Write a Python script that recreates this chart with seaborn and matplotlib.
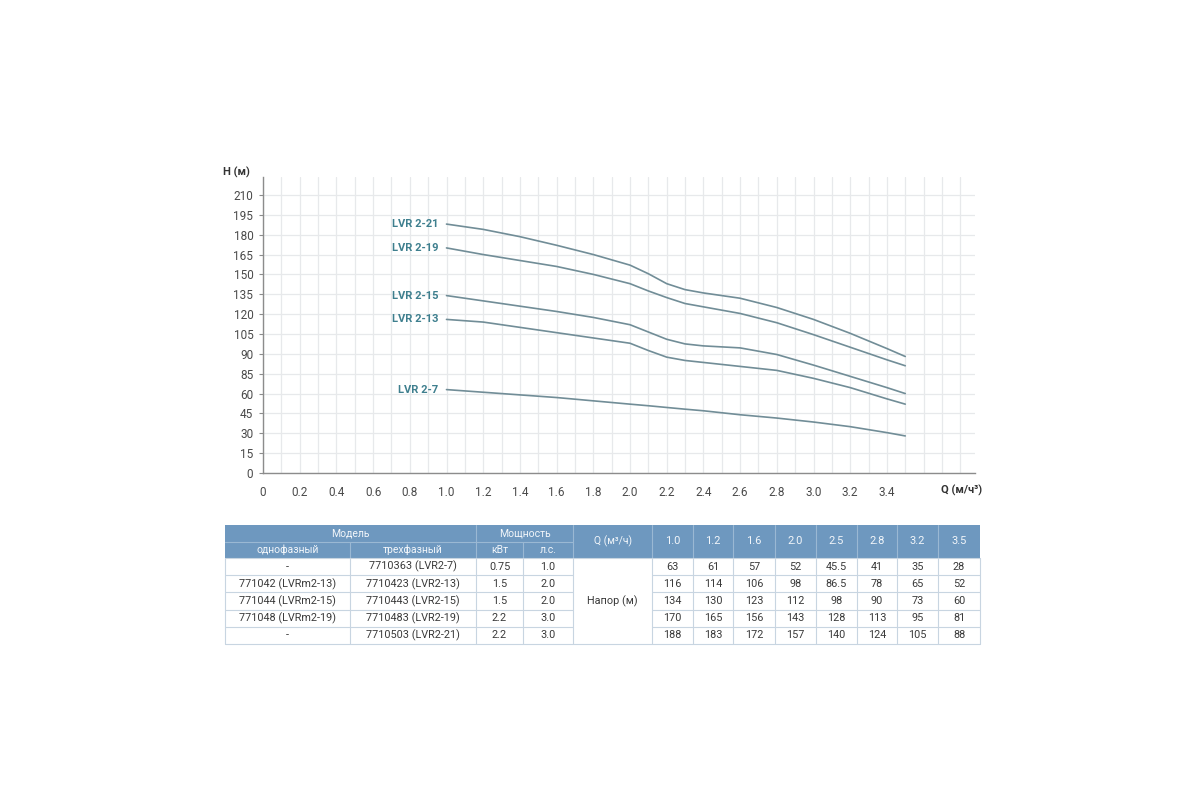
import matplotlib
matplotlib.use("Agg")
import matplotlib.pyplot as plt
import seaborn as sns
import pandas as pd
from matplotlib.patches import Rectangle

# ---------------- data ----------------
models = ["LVR 2-21", "LVR 2-19", "LVR 2-15", "LVR 2-13", "LVR 2-7"]
q_points = [1.0, 1.2, 1.4, 1.6, 1.8, 2.0, 2.1, 2.2, 2.3, 2.4, 2.6, 2.8, 3.0, 3.2, 3.4, 3.5]
h_lvr2_21 = [188, 184, 178.5, 172, 165, 157, 150.5, 143, 138.5, 136, 132, 125, 116, 105.5, 94, 88]
h_lvr2_19 = [170, 165, 160.5, 156, 150, 143, 137.5, 132.5, 128, 125.5, 120.5, 113.5, 104.5, 95, 85.5, 81]
h_lvr2_15 = [134, 130, 126, 122, 117.5, 112, 106.5, 101, 97.5, 96, 94.5, 89.5, 81.5, 73, 64.5, 60]
h_lvr2_13 = [116, 114, 110, 106, 102, 98, 92.5, 87.5, 85, 83.5, 80.5, 77.5, 71.5, 64.5, 56, 52]
h_lvr2_7 = [63, 61, 59, 57, 54.5, 52, 50.8, 49.5, 48.2, 47, 44, 41.5, 38.5, 35, 30.5, 28]

x_ticks = [0, 0.2, 0.4, 0.6, 0.8, 1.0, 1.2, 1.4, 1.6, 1.8, 2.0, 2.2, 2.4, 2.6, 2.8, 3.0, 3.2, 3.4]
x_tick_labels = ["0", "0.2", "0.4", "0.6", "0.8", "1.0", "1.2", "1.4", "1.6", "1.8",
                 "2.0", "2.2", "2.4", "2.6", "2.8", "3.0", "3.2", "3.4"]
y_ticks = [0, 15, 30, 45, 60, 75, 90, 105, 120, 135, 150, 165, 180, 195, 210]
y_tick_labels = ["0", "15", "30", "45", "60", "85", "90", "105", "120", "135",
                 "150", "165", "180", "195", "210"]

# table
tbl_single = ["-", "771042 (LVRm2-13)", "771044 (LVRm2-15)", "771048 (LVRm2-19)", "-"]
tbl_three = ["7710363 (LVR2-7)", "7710423 (LVR2-13)", "7710443 (LVR2-15)",
             "7710483 (LVR2-19)", "7710503 (LVR2-21)"]
tbl_kw = ["0.75", "1.5", "1.5", "2.2", "2.2"]
tbl_hp = ["1.0", "2.0", "2.0", "3.0", "3.0"]
tbl_q = ["1.0", "1.2", "1.6", "2.0", "2.5", "2.8", "3.2", "3.5"]
tbl_head = [
    ["63", "61", "57", "52", "45.5", "41", "35", "28"],
    ["116", "114", "106", "98", "86.5", "78", "65", "52"],
    ["134", "130", "123", "112", "98", "90", "73", "60"],
    ["170", "165", "156", "143", "128", "113", "95", "81"],
    ["188", "183", "172", "157", "140", "124", "105", "88"],
]

# ---------------- style ----------------
sns.set_theme(style="white")
plt.rcParams["font.family"] = ["Roboto", "DejaVu Sans"]

LINE_C = "#718d97"
LABEL_C = "#3e7f8e"
TICK_C = "#4a4a4a"
GRID_C = "#e7e9eb"
AXIS_C = "#8c8c8c"

fig = plt.figure(figsize=(12, 8), dpi=100)
fig.patch.set_facecolor("white")

# chart axes placed in pixel terms
L, R, B, T = 263, 975, 473, 177
px_per_q = 183.5
px_per_h = 1.324
ax = fig.add_axes([L / 1200, 1 - B / 800, (R - L) / 1200, (B - T) / 800])
ax.set_xlim(0, (R - L) / px_per_q)
ax.set_ylim(0, (B - T) / px_per_h)

rows = []
for name, hs in zip(models, [h_lvr2_21, h_lvr2_19, h_lvr2_15, h_lvr2_13, h_lvr2_7]):
    for q, h in zip(q_points, hs):
        rows.append({"model": name, "Q": q, "H": h})
df = pd.DataFrame(rows)

sns.lineplot(data=df, x="Q", y="H", hue="model", palette=[LINE_C] * len(models),
             legend=False, sort=False, linewidth=1.2, ax=ax, zorder=3)

# curve labels
for name, hs in zip(models, [h_lvr2_21, h_lvr2_19, h_lvr2_15, h_lvr2_13, h_lvr2_7]):
    ax.text(q_points[0] - 0.045, hs[0], name, ha="right", va="center",
            fontsize=8, fontweight="semibold", color=LABEL_C)

# ticks & grid
ax.set_xticks(x_ticks)
ax.set_xticklabels(x_tick_labels)
ax.set_xticks([i / 10 for i in range(0, 39)], minor=True)
ax.set_yticks(y_ticks)
ax.set_yticklabels(y_tick_labels)
ax.grid(True, which="both", axis="x", color=GRID_C, linewidth=0.9, zorder=0)
ax.grid(True, which="major", axis="y", color=GRID_C, linewidth=0.9, zorder=0)
ax.tick_params(axis="both", which="major", labelsize=8.5, labelcolor=TICK_C,
               color=AXIS_C, length=3, width=0.8, direction="out",
               left=True, bottom=False)
ax.tick_params(axis="x", which="major", pad=6)
ax.tick_params(axis="y", which="major", pad=4)
ax.tick_params(which="minor", length=0)
ax.set_xlabel("")
ax.set_ylabel("")
for s in ["top", "right"]:
    ax.spines[s].set_visible(False)
for s in ["left", "bottom"]:
    ax.spines[s].set_color(AXIS_C)
    ax.spines[s].set_linewidth(1.0)

fig.text(236 / 1200, 1 - 172 / 800, "H (м)", ha="center", va="center",
         fontsize=8, fontweight="bold", color="#333333")
fig.text(962 / 1200, 1 - 490 / 800, "Q (м/ч³)", ha="center", va="center",
         fontsize=8, fontweight="bold", color="#333333")

# ---------------- table ----------------
tax = fig.add_axes([0, 0, 1, 1])
tax.set_xlim(0, 1200)
tax.set_ylim(800, 0)
tax.axis("off")
tax.patch.set_alpha(0)

HDR_C = "#6e98bf"
HDR_LINE = "#9ab8d3"
HDR_TXT = "#f2f6fa"
CELL_LINE = "#c8d5e1"
TXT = "#3a3a3a"

cols = [225, 350, 476, 523, 573, 652, 693, 733, 775, 816, 857, 897, 938, 980]
y_top, y_mid, y_hdr = 525, 542, 558
y_bot = 644
n_rows = 5
rh = (y_bot - y_hdr) / n_rows

tax.add_patch(Rectangle((cols[0], y_top), cols[-1] - cols[0], y_hdr - y_top,
                        facecolor=HDR_C, edgecolor="none"))
# header internal lines
tax.plot([cols[0], cols[4]], [y_mid, y_mid], color=HDR_LINE, lw=0.8)
for i in [2, 4, 5, 6, 7, 8, 9, 10, 11, 12]:
    tax.plot([cols[i], cols[i]], [y_top, y_hdr], color=HDR_LINE, lw=0.8)
for i in [1, 3]:
    tax.plot([cols[i], cols[i]], [y_mid, y_hdr], color=HDR_LINE, lw=0.8)

hfs = 7.5
tax.text((cols[0] + cols[2]) / 2, (y_top + y_mid) / 2, "Модель", ha="center",
         va="center", fontsize=hfs, color=HDR_TXT)
tax.text((cols[2] + cols[4]) / 2, (y_top + y_mid) / 2, "Мощность", ha="center",
         va="center", fontsize=hfs, color=HDR_TXT)
sub = ["однофазный", "трехфазный", "кВт", "л.с."]
for i, s in enumerate(sub):
    tax.text((cols[i] + cols[i + 1]) / 2, (y_mid + y_hdr) / 2, s, ha="center",
             va="center", fontsize=hfs, color=HDR_TXT)
tax.text((cols[4] + cols[5]) / 2, (y_top + y_hdr) / 2, "Q (м³/ч)", ha="center",
         va="center", fontsize=hfs, color=HDR_TXT)
for j, qv in enumerate(tbl_q):
    tax.text((cols[5 + j] + cols[6 + j]) / 2, (y_top + y_hdr) / 2, qv, ha="center",
             va="center", fontsize=hfs + 0.5, color=HDR_TXT)

# body grid
for r in range(n_rows + 1):
    yy = y_hdr + r * rh
    if 0 < r < n_rows:
        tax.plot([cols[0], cols[4]], [yy, yy], color=CELL_LINE, lw=0.8)
        tax.plot([cols[5], cols[-1]], [yy, yy], color=CELL_LINE, lw=0.8)
    else:
        tax.plot([cols[0], cols[-1]], [yy, yy], color=CELL_LINE, lw=0.8)
for c in cols:
    tax.plot([c, c], [y_hdr, y_bot], color=CELL_LINE, lw=0.8)

bfs = 7.8
for r in range(n_rows):
    yc = y_hdr + (r + 0.5) * rh
    vals = [tbl_single[r], tbl_three[r], tbl_kw[r], tbl_hp[r]]
    for i, v in enumerate(vals):
        tax.text((cols[i] + cols[i + 1]) / 2, yc, v, ha="center", va="center",
                 fontsize=bfs, color=TXT)
    for j, v in enumerate(tbl_head[r]):
        tax.text((cols[5 + j] + cols[6 + j]) / 2, yc, v, ha="center", va="center",
                 fontsize=bfs, color=TXT)
tax.text((cols[4] + cols[5]) / 2, y_hdr + 2.5 * rh, "Напор (м)", ha="center",
         va="center", fontsize=bfs, color=TXT)

fig.savefig("out.png", dpi=100, facecolor="white")
